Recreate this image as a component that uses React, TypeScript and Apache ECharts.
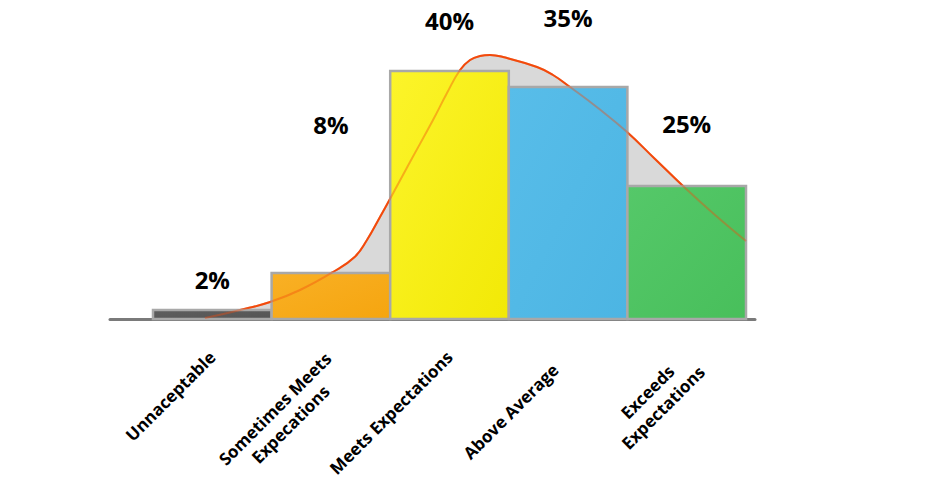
import React, { useEffect, useRef } from "react";
import * as echarts from "echarts";

const categories = [
  "Unnaceptable",
  "Sometimes Meets\nExpecations",
  "Meets Expectations",
  "Above Average",
  "Exceeds\nExpectations",
];
const barValues = [9, 46, 248, 232, 133];
const barColors = ["#555555", "#f5a50f", "#f2e906", "#4cb5e3", "#48bf5b"];
const barHighlights = ["#5e5e5e", "#f9b025", "#fcf42a", "#58bde9", "#55c869"];
const percentLabels = ["2%", "8%", "40%", "35%", "25%"];
const percentLabelHeights = [40, 195, 299, 302, 196];

const curveX = [-0.062, 0.234, 0.487, 0.74, 1.018, 1.2, 1.304, 1.414, 1.498, 1.667, 1.861, 1.979, 2.089, 2.173, 2.257, 2.342, 2.451, 2.738, 2.873, 3.016, 3.252, 3.497, 3.733, 3.969, 4.239, 4.5];
const curveY = [1, 9, 17, 29, 47, 62, 79, 102, 120, 157, 199, 226, 249, 259, 263, 264, 262, 252, 244, 232, 211, 187, 160, 133, 104, 78];

export default function App() {
  const ref = useRef<HTMLDivElement>(null);
  useEffect(() => {
    document.body.style.margin = "0";
    const chart = echarts.init(ref.current!, null, { renderer: "svg" });
    const font = "'Open Sans', 'DejaVu Sans', sans-serif";
    const labelPads: number[][] = [
      [0, 0, 0, 0],
      [20, 3, 0, 0],
      [0, 0, 0, 0],
      [0, 18, 0, 0],
      [20, 0, 0, 0],
    ];
    const curveData = curveX.map((x, i) => [x, curveY[i]]);
    chart.setOption({
      animation: false,
      grid: [
        { left: 153, right: 179, top: 0, bottom: 170 },
        { left: 110, right: 170, top: 0, bottom: 170 },
      ],
      xAxis: [
        {
          gridIndex: 0,
          type: "category",
          data: categories.map((c, i) => ({ value: c, textStyle: { padding: labelPads[i] } })),
          boundaryGap: true,
          axisLine: { show: false },
          axisTick: { show: false },
          axisLabel: {
            interval: 0,
            rotate: 45,
            margin: 35,
            color: "#000",
            fontFamily: font,
            fontWeight: "bold",
            fontSize: 17,
            lineHeight: 22,
            formatter: (v: string) => v.split("\n").map((s) => `{a|${s}}`).join("\n"),
            rich: {
              a: { align: "center", fontFamily: font, fontWeight: "bold", fontSize: 17, lineHeight: 22, color: "#000" },
            },
          },
        },
        { gridIndex: 0, type: "value", min: -0.5, max: 4.5, show: false },
        {
          gridIndex: 1,
          type: "value",
          min: 0,
          max: 1,
          axisLine: { show: true, lineStyle: { color: "#7a7a7a", width: 3 } },
          axisTick: { show: false },
          axisLabel: { show: false },
          splitLine: { show: false },
        },
      ],
      yAxis: [
        { gridIndex: 0, type: "value", min: 0, max: 319, show: false },
        { gridIndex: 1, type: "value", min: 0, max: 1, show: false },
      ],
      series: [
        {
          type: "line",
          xAxisIndex: 1,
          yAxisIndex: 0,
          z: 1,
          smooth: 0.45,
          symbol: "none",
          data: curveData,
          lineStyle: { color: "#f24a0c", width: 2 },
          areaStyle: { color: "#d9d9d9", opacity: 1 },
        },
        {
          type: "custom",
          xAxisIndex: 1,
          yAxisIndex: 0,
          z: 2,
          data: barValues.map((v, i) => [i, v]),
          renderItem: (params: any, api: any) => {
            const i = api.value(0);
            const v = api.value(1);
            const p0 = api.coord([i - 0.5, v]);
            const p1 = api.coord([i + 0.5, 0]);
            return {
              type: "rect",
              shape: { x: p0[0], y: p0[1], width: p1[0] - p0[0], height: p1[1] - p0[1] },
              style: {
                fill: new echarts.graphic.LinearGradient(0, 0, 1, 1, [
                  { offset: 0, color: barHighlights[i] },
                  { offset: 1, color: barColors[i] },
                ]),
                stroke: "#a8a8a8",
                lineWidth: 2.5,
              },
            };
          },
        },
        {
          type: "line",
          xAxisIndex: 1,
          yAxisIndex: 0,
          z: 3,
          smooth: 0.45,
          symbol: "none",
          silent: true,
          data: curveData,
          lineStyle: { color: "#f24a0c", width: 2, opacity: 0.4 },
        },
        {
          type: "scatter",
          xAxisIndex: 1,
          yAxisIndex: 0,
          z: 4,
          symbolSize: 1,
          itemStyle: { color: "rgba(0,0,0,0)" },
          data: percentLabelHeights.map((h, i) => [i, h]),
          label: {
            show: true,
            position: "inside",
            formatter: (p: any) => percentLabels[p.dataIndex],
            fontFamily: font,
            fontWeight: "bold",
            fontSize: 24,
            color: "#000",
            opacity: 1,
          },
        },
      ],
    });
    return () => chart.dispose();
  }, []);
  return <div ref={ref} style={{ width: 925, height: 489 }} />;
}
